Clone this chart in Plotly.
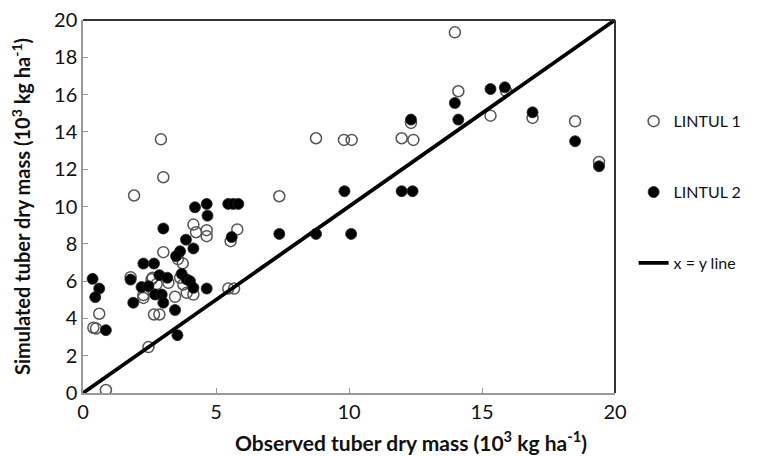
import plotly.graph_objects as go

# LINTUL 1 (open circles)
l1_obs = [0.86, 2.46, 0.39, 0.49, 0.61, 2.67, 2.87, 2.27, 2.27, 3.46, 3.90, 4.15, 5.46, 5.68,
          1.79, 2.62, 3.57, 3.75, 3.02, 4.15, 4.25, 4.65, 4.65, 5.80, 5.55, 1.92, 3.02, 2.93,
          3.21, 2.77, 3.65, 3.77, 2.58,
          7.38, 8.76, 9.81, 10.10, 11.98, 12.42, 12.33, 13.98, 14.11, 15.32, 15.90, 16.90, 18.50, 19.40]
l1_sim = [0.16, 2.46, 3.50, 3.46, 4.25, 4.21, 4.21, 5.25, 5.10, 5.16, 5.37, 5.28, 5.60, 5.60,
          6.21, 6.18, 7.18, 6.95, 7.55, 9.03, 8.62, 8.73, 8.41, 8.77, 8.14, 10.59, 11.57, 13.60,
          5.91, 5.84, 6.18, 5.82, 6.10,
          10.55, 13.66, 13.57, 13.57, 13.66, 13.57, 14.48, 19.34, 16.18, 14.87, 16.20, 14.75, 14.57, 12.39]

# LINTUL 2 (filled circles)
l2_obs = [0.36, 0.61, 0.46, 0.86, 3.02, 4.21, 4.65, 4.68, 5.46, 5.65, 5.84, 5.59, 3.87, 4.15,
          3.65, 3.50, 2.27, 2.67, 1.79, 2.87, 3.17, 3.71, 3.90, 4.02, 2.20, 2.46, 2.71, 2.96,
          4.15, 4.65, 1.89, 3.02, 3.46, 3.55,
          7.38, 8.76, 10.08, 9.83, 11.98, 12.39, 12.33, 13.98, 14.11, 15.32, 15.86, 16.90, 18.50, 19.40]
l2_sim = [6.12, 5.60, 5.14, 3.37, 8.82, 9.96, 10.14, 9.51, 10.14, 10.14, 10.14, 8.36, 8.22, 7.75,
          7.60, 7.34, 6.94, 6.94, 6.08, 6.32, 6.18, 6.39, 6.09, 6.00, 5.68, 5.73, 5.28, 5.28,
          5.64, 5.60, 4.84, 4.84, 4.45, 3.10,
          8.53, 8.53, 8.53, 10.82, 10.82, 10.82, 14.66, 15.55, 14.66, 16.30, 16.39, 15.05, 13.50, 12.16]

line_xy = [0, 20]
x_ticks = [0, 5, 10, 15, 20]
y_ticks = [0, 2, 4, 6, 8, 10, 12, 14, 16, 18, 20]

FONT = "Lato, 'Open Sans', sans-serif"

fig = go.Figure()
fig.add_trace(go.Scatter(
    x=l1_obs, y=l1_sim, mode="markers", name="LINTUL 1", legendgroup="a",
    marker=dict(symbol="circle-open", size=11, color="#555555", line=dict(width=1.5, color="#555555"))))
fig.add_trace(go.Scatter(
    x=l2_obs, y=l2_sim, mode="markers", name="LINTUL 2", legendgroup="b",
    marker=dict(symbol="circle", size=11, color="black", line=dict(width=0.8, color="#222222"))))
fig.add_trace(go.Scatter(
    x=line_xy, y=line_xy, mode="lines", name="x = y line", legendgroup="c",
    line=dict(color="black", width=3.8)))

axis_common = dict(
    showgrid=False, zeroline=False, showline=True, linecolor="#999999", linewidth=1.5,
    ticks="inside", ticklen=5, tickcolor="#999999", tickwidth=1, automargin=False,
    ticklabeloverflow="allow",
    tickfont=dict(family=FONT, size=20, color="#111111"),
)
fig.update_xaxes(range=[0, 20], tickvals=x_ticks, **axis_common)
fig.update_yaxes(range=[0, 20], tickvals=y_ticks, **axis_common,
                 title=dict(text="<b>Simulated tuber dry mass (10<sup>3</sup> kg ha<sup>-1</sup>)</b>",
                            font=dict(family=FONT, size=20, color="#111111"), standoff=22))

# x-axis title (offset to the right as in the reference)
fig.add_annotation(text="<b>Observed tuber dry mass (10<sup>3</sup> kg ha<sup>-1</sup>)</b>",
                   xref="paper", yref="paper", x=0.617, y=-0.085, xanchor="center", yanchor="top",
                   showarrow=False, font=dict(family=FONT, size=21, color="#111111"))

# top and right frame
fig.add_shape(type="line", xref="x domain", yref="y domain", x0=0, x1=1, y0=1, y1=1,
              line=dict(color="#333333", width=2))
fig.add_shape(type="line", xref="x domain", yref="y domain", x0=1, x1=1, y0=0, y1=1,
              line=dict(color="#333333", width=2))

fig.update_layout(
    width=765, height=457,
    margin=dict(l=75, r=158, t=12, b=72),
    plot_bgcolor="white", paper_bgcolor="white",
    font=dict(family=FONT, size=18, color="#111111"),
    legend=dict(x=1.035, y=0.774, xanchor="left", yanchor="top", tracegroupgap=47,
                font=dict(family=FONT, size=16, color="#111111"), bgcolor="rgba(0,0,0,0)"),
)

fig.write_html("out.html")
